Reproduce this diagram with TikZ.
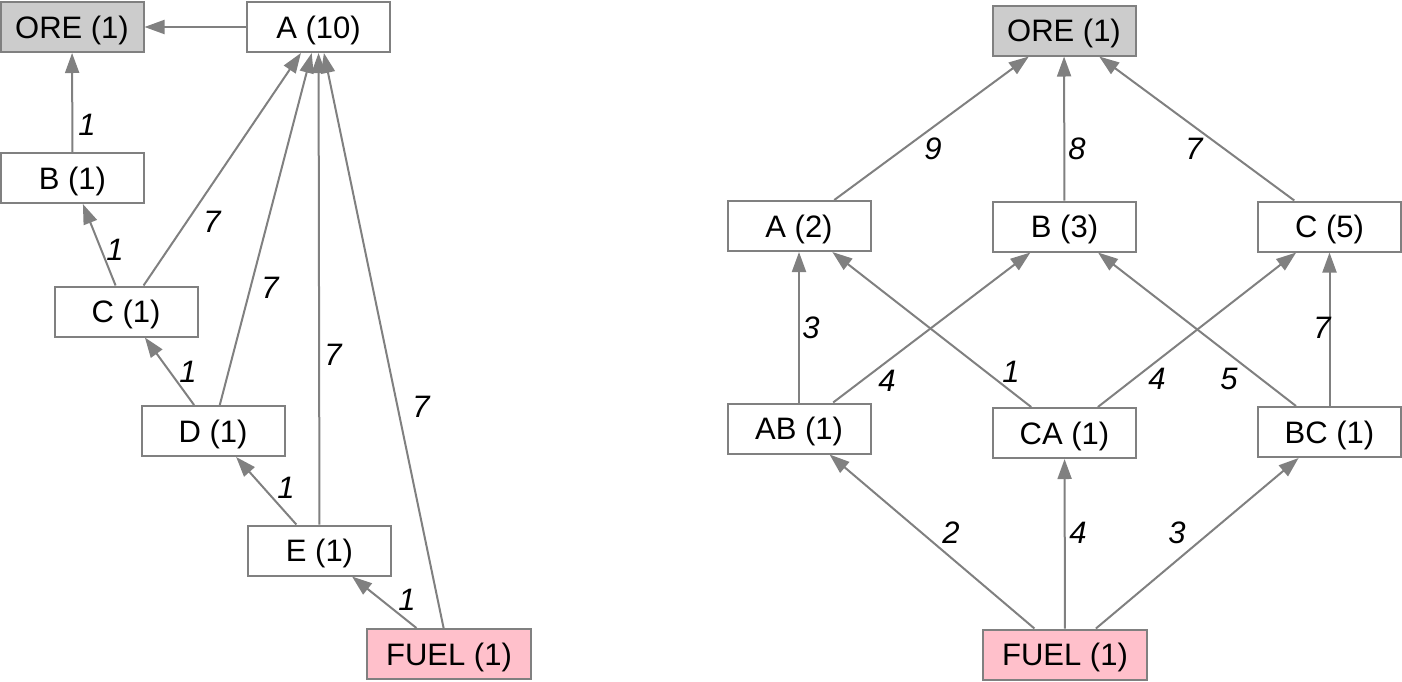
\documentclass[tikz,border=0pt]{standalone}
\usepackage{fontspec}
\setmainfont{Liberation Sans}
\usetikzlibrary{arrows.meta}
\definecolor{edgegray}{HTML}{808080}
\definecolor{oregray}{HTML}{CCCCCC}
\definecolor{fuelpink}{HTML}{FFC0CB}
\begin{document}
\begin{tikzpicture}[x=0.5pt,y=-0.5pt,
  box/.style={draw=edgegray, line width=1pt, rectangle, minimum width=71.5pt, minimum height=25pt, inner sep=0pt, text depth=0pt, font=\fontsize{15.5}{18}\selectfont, fill=white},
  orebox/.style={box, fill=oregray},
  fuelbox/.style={box, fill=fuelpink, minimum width=82pt},
  conn/.style={draw=edgegray, line width=1pt, -{Triangle[length=10pt,width=7pt]}},
  lab/.style={font=\fontsize{15.5}{18}\selectfont\itshape, inner sep=0pt}]
\useasboundingbox (0,0) rectangle (1402,681);
% ---------- left graph ----------
\node[orebox] (ore1) at (72,27) {ORE (1)};
\node[box] (a1) at (318.5,27) {A (10)};
\node[box] (b1) at (72.5,178) {B (1)};
\node[box] (c1) at (126,311.5) {C (1)};
\node[box] (d1) at (213,431) {D (1)};
\node[box] (e1) at (319.5,550.5) {E (1)};
\node[fuelbox] (f1) at (449,654) {FUEL (1)};
\draw[conn] (a1) -- (ore1);
\draw[conn] (b1) -- (ore1);
\draw[conn] (c1) -- (b1);
\draw[conn] (c1) -- (a1);
\draw[conn] (d1) -- (c1);
\draw[conn] (d1) -- (a1);
\draw[conn] (e1) -- (d1);
\draw[conn] (e1) -- (a1);
\draw[conn] (f1) -- (e1);
\draw[conn] (f1) -- (a1);
\node[lab] (l1) at (87,125) {1};
\node[lab] (l2) at (115,250) {1};
\node[lab] (l3) at (212,222) {7};
\node[lab] (l4) at (188,372) {1};
\node[lab] (l5) at (270,288) {7};
\node[lab] (l6) at (286,488) {1};
\node[lab] (l7) at (333,355) {7};
\node[lab] (l8) at (407,600) {1};
\node[lab] (l9) at (421,407) {7};
% ---------- right graph ----------
\node[orebox] (ore2) at (1064,30.5) {ORE (1)};
\node[box] (a2) at (799,226) {A (2)};
\node[box] (b2) at (1064.5,226.5) {B (3)};
\node[box] (c2) at (1329.5,226.5) {C (5)};
\node[box] (ab) at (799,428.5) {AB (1)};
\node[box] (ca) at (1064.5,433) {CA (1)};
\node[box] (bc) at (1329.5,432) {BC (1)};
\node[fuelbox] (f2) at (1065,654.5) {FUEL (1)};
\draw[conn] (a2) -- (ore2);
\draw[conn] (b2) -- (ore2);
\draw[conn] (c2) -- (ore2);
\draw[conn] (ab) -- (a2);
\draw[conn] (ab) -- (b2);
\draw[conn] (ca) -- (a2);
\draw[conn] (ca) -- (c2);
\draw[conn] (bc) -- (b2);
\draw[conn] (bc) -- (c2);
\draw[conn] (f2) -- (ab);
\draw[conn] (f2) -- (ca);
\draw[conn] (f2) -- (bc);
\node[lab] (r1) at (933,149) {9};
\node[lab] (r2) at (1077,149) {8};
\node[lab] (r3) at (1194,149) {7};
\node[lab] (r4) at (811,328) {3};
\node[lab] (r5) at (1322,328) {7};
\node[lab] (r6) at (887,381) {4};
\node[lab] (r7) at (1011,372) {1};
\node[lab] (r8) at (1157,379) {4};
\node[lab] (r9) at (1229,379) {5};
\node[lab] (r10) at (951,533) {2};
\node[lab] (r11) at (1078,533) {4};
\node[lab] (r12) at (1177,533) {3};
\end{tikzpicture}
\end{document}
